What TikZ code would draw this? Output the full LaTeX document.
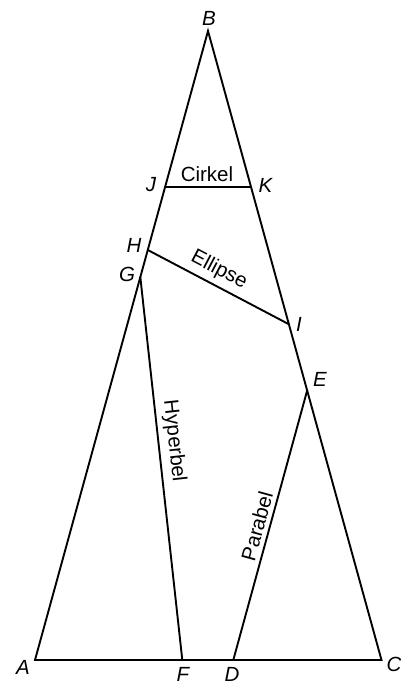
\documentclass[tikz,border=0pt]{standalone}
\usepackage{fontspec}
\setmainfont{Liberation Sans}
\begin{document}
\begin{tikzpicture}[x=1pt,y=-1pt,
  edge/.style={line width=1.9pt,line cap=round,line join=miter},
  ptlab/.style={font=\fontsize{20.5}{24}\selectfont\itshape,inner sep=0pt},
  curvelab/.style={font=\fontsize{20.5}{24}\selectfont,inner sep=0pt}]
\useasboundingbox (0,0) rectangle (400,682);
\coordinate (A) at (35,660);
\coordinate (B) at (208,31);
\coordinate (C) at (381.5,660);
\coordinate (J) at (165.2,186.7);
\coordinate (K) at (251,186.7);
\coordinate (H) at (147.8,250);
\coordinate (G) at (140.3,277);
\coordinate (I) at (289,324.3);
\coordinate (E) at (307.3,390);
\coordinate (F) at (182.3,660);
\coordinate (D) at (233.3,660);
\draw[edge] (A) -- (B) -- (C) -- cycle;
\draw[edge] (J) -- (K);
\draw[edge] (H) -- (I);
\draw[edge] (G) -- (F);
\draw[edge] (E) -- (D);
\node[ptlab] (lB) at (209,18) {B};
\node[ptlab] (lJ) at (151,184.5) {J};
\node[ptlab] (lK) at (265.5,185.5) {K};
\node[ptlab] (lH) at (134,245) {H};
\node[ptlab] (lG) at (127,274) {G};
\node[ptlab] (lI) at (299,324) {I};
\node[ptlab] (lE) at (320,379) {E};
\node[ptlab] (lA) at (23,667) {A};
\node[ptlab] (lF) at (183,674) {F};
\node[ptlab] (lD) at (232,674) {D};
\node[ptlab] (lC) at (394,664) {C};
\node[curvelab] (cirkel) at (207,174) {Cirkel};
\node[curvelab,rotate=-27.7] (ellipse) at (219,270) {Ellipse};
\node[curvelab,rotate=-83.7] (hyperbel) at (174,441) {Hyperbel};
\node[curvelab,rotate=74.6] (parabel) at (257,526) {Parabel};
\end{tikzpicture}
\end{document}
